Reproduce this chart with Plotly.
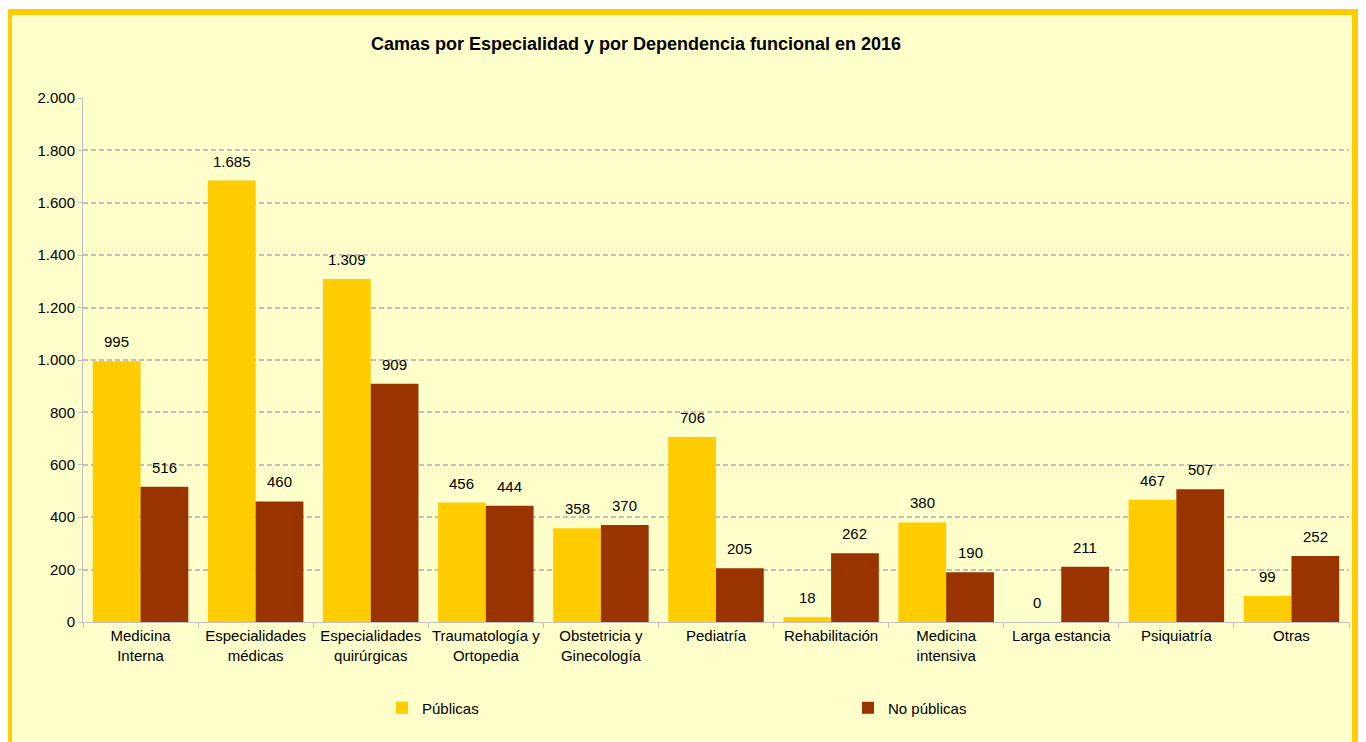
import plotly.graph_objects as go

categories = [
    "Medicina<br>Interna",
    "Especialidades<br>médicas",
    "Especialidades<br>quirúrgicas",
    "Traumatología y<br>Ortopedia",
    "Obstetricia y<br>Ginecología",
    "Pediatría",
    "Rehabilitación",
    "Medicina<br>intensiva",
    "Larga estancia",
    "Psiquiatría",
    "Otras",
]
publicas = [995, 1685, 1309, 456, 358, 706, 18, 380, 0, 467, 99]
no_publicas = [516, 460, 909, 444, 370, 205, 262, 190, 211, 507, 252]
y_ticks = [0, 200, 400, 600, 800, 1000, 1200, 1400, 1600, 1800, 2000]

FONT = "Liberation Sans, Arial, sans-serif"
BG = "#FFFFCC"
BORDER = "#FFCC00"
GRID = "#C0C0C0"

# the page body has an 8px margin, so the figure sits 8px in from the window corner
OFF = 8
W, H = 1366 - OFF, 742 - OFF
L, T = 83 - OFF, 98 - OFF
R = W - (1349 - OFF)
B = H - (622 - OFF)
pw, ph = W - L - R, H - T - B
BARGAP = 0.17


def px_x(x):
    # window pixel -> paper fraction
    return (x - OFF - L) / pw


def px_y(y):
    return (H - B - (y - OFF)) / ph


# offset of each bar centre from its category centre, in pixels
half_bar = pw / len(categories) * (1 - BARGAP) / 4

fig = go.Figure()
series = [
    ("Públicas", publicas, "#FFCC00", "legend", -half_bar),
    ("No públicas", no_publicas, "#993300", "legend2", half_bar),
]
annotations = []
for name, vals, color, leg, shift in series:
    fig.add_trace(
        go.Bar(
            x=categories,
            y=vals,
            name=name,
            marker=dict(color=color, line=dict(width=0)),
            legend=leg,
        )
    )
    for cat, v in zip(categories, vals):
        annotations.append(
            dict(
                x=cat,
                y=v,
                xref="x",
                yref="y",
                text=f"{v:,}".replace(",", "."),
                showarrow=False,
                xshift=shift,
                yshift=9,
                yanchor="bottom",
                font=dict(size=15, family=FONT, color="#000000"),
            )
        )

legend_style = dict(
    orientation="h",
    xanchor="left",
    y=px_y(708),
    yanchor="middle",
    bgcolor="rgba(0,0,0,0)",
    font=dict(size=15, family=FONT),
    itemwidth=30,
)

fig.update_layout(
    width=W,
    height=H,
    margin=dict(l=L, r=R, t=T, b=B),
    separators=",.",
    paper_bgcolor="#FFFFFF",
    plot_bgcolor="rgba(0,0,0,0)",
    font=dict(family=FONT, size=15, color="#000000"),
    barmode="group",
    bargap=BARGAP,
    bargroupgap=0,
    title=dict(
        text="<b>Camas por Especialidad y por Dependencia funcional en 2016</b>",
        x=(636 - OFF) / W,
        xref="container",
        xanchor="center",
        y=1 - (44 - OFF) / H,
        yref="container",
        yanchor="middle",
        font=dict(size=18, family=FONT, color="#000000"),
    ),
    xaxis=dict(
        showline=True,
        linecolor=GRID,
        linewidth=1,
        ticks="outside",
        tickson="boundaries",
        ticklen=5,
        tickcolor=GRID,
        tickangle=0,
        tickfont=dict(size=15, family=FONT),
        showgrid=False,
        automargin=False,
    ),
    yaxis=dict(
        range=[0, 2000],
        tickvals=y_ticks,
        tickformat=",d",
        showline=True,
        linecolor=GRID,
        linewidth=1,
        ticks="outside",
        ticklen=4,
        tickcolor=GRID,
        showgrid=True,
        gridcolor=GRID,
        griddash="5px,3px",
        gridwidth=2,
        zeroline=False,
        tickfont=dict(size=15, family=FONT),
        automargin=False,
    ),
    showlegend=True,
    legend=dict(x=px_x(382), **legend_style),
    legend2=dict(x=px_x(848), **legend_style),
    annotations=annotations,
    shapes=[
        dict(
            type="rect",
            xref="paper",
            yref="paper",
            x0=px_x(9),
            x1=px_x(1355),
            y0=px_y(12),
            y1=px_y(780),
            line=dict(color=BORDER, width=6),
            fillcolor=BG,
            layer="below",
        )
    ],
)

fig.write_html("out.html")
